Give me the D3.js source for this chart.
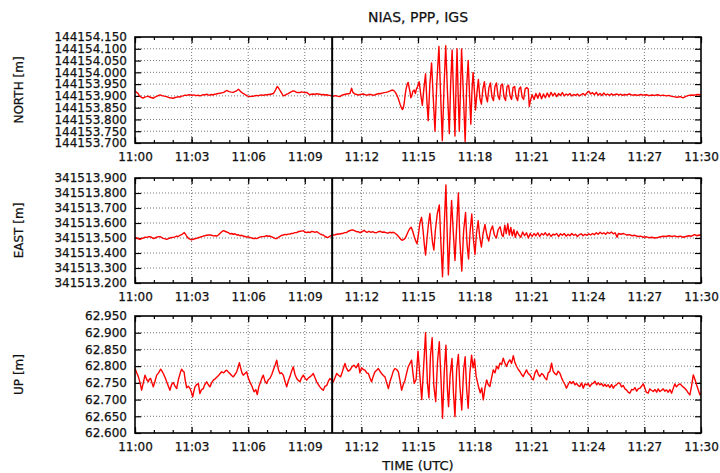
<!DOCTYPE html>
<html>
<head>
<meta charset="utf-8">
<script src="https://cdn.jsdelivr.net/npm/d3@7"></script>
<style>
  body { margin: 0; background: #fff; }
  text { font-family: "DejaVu Sans", Arial, sans-serif; fill: #111; stroke: #111; stroke-width: 0.25px; }
</style>
</head>
<body>
<svg id="chart"></svg>
<script>
// time is minutes after 11:00 UTC, values are mm offsets from each base
const startTime = Date.UTC(2005, 2, 28, 11, 0);
const endMinute = 30;
const markMinute = 10.45;
const chartTitle = 'NIAS, PPP, IGS';
const timeLabel = 'TIME (UTC)';

const northBase = 144153.900, eastBase = 341513.500, upBase = 62.750;
const northDomain = [144153.700, 144154.150], eastDomain = [341513.200, 341513.900], upDomain = [62.600, 62.950];
const northStep = 0.05, eastStep = 0.1, upStep = 0.05;

const north = [[0,22],[0.08,15],[0.15,12],[0.22,2],[0.3,-4],[0.38,-8],[0.45,-9],[0.53,-4],[0.62,-3],[0.7,-1],[0.8,-6],[0.9,-8],[0.98,-10],[1.06,-5],[1.15,-2],[1.25,2],[1.33,4],[1.42,1],[1.5,0],[1.6,-2],[1.68,-3],[1.77,-6],[1.85,-8],[1.95,-9],[2.03,-10],[2.12,-7],[2.2,-6],[2.3,-3],[2.38,-5],[2.47,-1],[2.55,0],[2.65,3],[2.74,2],[2.82,4],[2.9,5],[3.0,2],[3.09,4],[3.17,3],[3.25,1],[3.35,3],[3.44,0],[3.52,2],[3.6,5],[3.7,4],[3.8,7],[3.88,4],[3.95,3],[4.05,6],[4.15,4],[4.22,7],[4.3,8],[4.4,10],[4.5,11],[4.6,13],[4.7,15],[4.78,19],[4.86,23],[4.93,20],[5.0,18],[5.1,16],[5.21,15],[5.28,18],[5.35,20],[5.42,24],[5.48,28],[5.54,24],[5.6,18],[5.7,12],[5.8,8],[5.88,3],[5.95,0],[6.02,-2],[6.1,-3],[6.18,-1],[6.27,-2],[6.36,1],[6.45,2],[6.53,0],[6.62,3],[6.7,4],[6.8,2],[6.9,5],[6.98,4],[7.06,6],[7.15,6],[7.24,8],[7.33,10],[7.4,18],[7.45,25],[7.5,34],[7.54,40],[7.58,37],[7.62,32],[7.68,24],[7.75,15],[7.8,8],[7.86,0],[7.93,2],[8.0,5],[8.06,8],[8.12,10],[8.2,14],[8.3,18],[8.38,21],[8.45,20],[8.52,17],[8.6,14],[8.67,15],[8.74,14],[8.82,17],[8.9,16],[9.0,14],[9.1,15],[9.18,10],[9.25,5],[9.35,7],[9.45,8],[9.52,6],[9.6,9],[9.7,8],[9.8,7],[9.9,5],[10.0,6],[10.08,4],[10.16,5],[10.25,3],[10.35,2],[10.43,0],[10.51,-2],[10.6,1],[10.7,0],[10.78,-2],[10.86,-3],[10.93,1],[11.0,4],[11.1,6],[11.2,8],[11.3,9],[11.39,10],[11.44,22],[11.48,33],[11.52,22],[11.55,15],[11.65,8],[11.75,6],[11.83,3],[11.9,5],[12.0,7],[12.1,8],[12.2,5],[12.3,3],[12.4,6],[12.5,6],[12.6,3],[12.7,4],[12.8,7],[12.9,10],[13.0,9],[13.1,12],[13.2,14],[13.3,15],[13.4,17],[13.5,20],[13.58,23],[13.65,25],[13.72,22],[13.8,15],[13.88,3],[13.95,-10],[14.05,-35],[14.12,-50],[14.17,-58],[14.22,-52],[14.27,-30],[14.32,5],[14.37,30],[14.43,50],[14.48,57],[14.53,35],[14.58,15],[14.62,-8],[14.67,0],[14.73,20],[14.8,25],[14.86,10],[14.92,30],[14.98,40],[15.06,60],[15.14,10],[15.23,-40],[15.31,30],[15.4,94],[15.47,-20],[15.54,-105],[15.63,50],[15.72,140],[15.81,-10],[15.9,-150],[16.0,60],[16.11,210],[16.2,0],[16.29,-190],[16.38,40],[16.47,213],[16.56,20],[16.66,-160],[16.73,50],[16.81,195],[16.88,10],[16.96,-170],[17.02,60],[17.07,200],[17.13,0],[17.19,-150],[17.25,20],[17.31,199],[17.4,20],[17.5,-195],[17.58,40],[17.66,150],[17.73,10],[17.8,-120],[17.86,20],[17.92,100],[17.99,20],[18.05,-60],[18.12,10],[18.2,70],[18.28,-10],[18.36,-35],[18.44,30],[18.52,60],[18.6,0],[18.68,-25],[18.76,35],[18.84,55],[18.92,-5],[19.0,-20],[19.08,40],[19.16,55],[19.24,0],[19.32,-15],[19.4,45],[19.48,50],[19.56,-5],[19.64,-20],[19.72,40],[19.8,45],[19.88,0],[19.96,-15],[20.04,35],[20.12,40],[20.2,-5],[20.28,-20],[20.36,30],[20.44,38],[20.52,-5],[20.6,-15],[20.68,30],[20.76,35],[20.84,30],[20.9,-45],[20.96,-20],[21.05,5],[21.15,-15],[21.25,10],[21.35,-10],[21.45,12],[21.55,-12],[21.65,8],[21.75,-8],[21.85,12],[21.95,-5],[22.05,15],[22.15,0],[22.25,12],[22.35,-3],[22.45,10],[22.55,2],[22.65,14],[22.75,0],[22.85,8],[22.95,3],[23.05,10],[23.15,0],[23.25,6],[23.35,2],[23.45,8],[23.55,0],[23.65,5],[23.75,10],[23.85,3],[23.95,12],[24.05,20],[24.15,8],[24.25,14],[24.35,5],[24.45,15],[24.55,3],[24.65,10],[24.75,2],[24.85,12],[24.95,4],[25.05,8],[25.15,2],[25.25,9],[25.35,3],[25.45,6],[25.55,8],[25.65,3],[25.75,7],[25.85,2],[25.95,6],[26.05,4],[26.2,8],[26.35,3],[26.5,5],[26.65,2],[26.8,6],[26.95,3],[27.1,5],[27.25,1],[27.4,4],[27.55,2],[27.7,5],[27.85,1],[28.0,3],[28.15,0],[28.3,2],[28.45,-2],[28.6,-4],[28.75,-6],[28.9,-3],[29.05,-8],[29.2,-2],[29.35,2],[29.5,4],[29.65,3],[29.8,6],[30,5]];

const east = [[0,4],[0.1,0],[0.18,-5],[0.27,-9],[0.36,-3],[0.45,0],[0.53,6],[0.62,4],[0.7,8],[0.8,9],[0.9,2],[0.98,-4],[1.06,0],[1.15,5],[1.25,9],[1.33,9],[1.42,3],[1.5,-2],[1.6,-6],[1.68,-9],[1.77,-4],[1.85,0],[1.95,3],[2.03,4],[2.12,8],[2.2,12],[2.3,10],[2.38,18],[2.47,22],[2.55,30],[2.61,36],[2.68,25],[2.75,10],[2.83,-2],[2.92,-8],[3.0,-13],[3.08,-8],[3.17,-5],[3.27,-2],[3.35,2],[3.44,5],[3.53,9],[3.62,13],[3.7,15],[3.8,18],[3.9,20],[3.98,20],[4.07,18],[4.15,14],[4.25,15],[4.33,13],[4.42,20],[4.5,30],[4.6,42],[4.68,49],[4.77,45],[4.86,40],[4.95,36],[5.04,27],[5.12,30],[5.2,25],[5.3,28],[5.39,20],[5.48,22],[5.56,15],[5.65,18],[5.74,13],[5.83,10],[5.92,6],[6.0,8],[6.09,4],[6.18,0],[6.27,-3],[6.36,-2],[6.45,-4],[6.55,2],[6.62,6],[6.7,9],[6.8,9],[6.9,12],[6.98,15],[7.07,12],[7.15,13],[7.25,8],[7.35,2],[7.42,-3],[7.51,-4],[7.6,5],[7.7,12],[7.78,18],[7.86,20],[7.95,24],[8.04,22],[8.12,26],[8.21,27],[8.3,30],[8.4,32],[8.48,36],[8.57,36],[8.65,42],[8.75,45],[8.83,46],[8.92,49],[9.0,40],[9.1,36],[9.18,40],[9.27,36],[9.36,44],[9.45,42],[9.54,38],[9.63,42],[9.72,35],[9.8,28],[9.9,22],[9.98,20],[10.08,10],[10.16,5],[10.24,4],[10.33,12],[10.42,18],[10.51,20],[10.6,22],[10.7,25],[10.78,27],[10.86,27],[10.95,30],[11.04,32],[11.12,36],[11.21,36],[11.3,45],[11.4,50],[11.48,53],[11.57,53],[11.65,48],[11.75,42],[11.83,42],[11.92,35],[12.0,40],[12.08,45],[12.15,52],[12.22,42],[12.3,38],[12.4,45],[12.5,38],[12.6,42],[12.7,36],[12.8,35],[12.9,42],[13.0,45],[13.1,38],[13.2,40],[13.3,36],[13.4,32],[13.5,38],[13.6,35],[13.7,38],[13.8,30],[13.9,20],[14.0,5],[14.1,-10],[14.18,-15],[14.27,-8],[14.35,5],[14.45,35],[14.55,60],[14.64,72],[14.72,45],[14.8,10],[14.88,-20],[14.95,-38],[15.02,20],[15.1,100],[15.19,138],[15.27,50],[15.34,-50],[15.4,-113],[15.48,0],[15.56,100],[15.63,164],[15.7,60],[15.77,-30],[15.84,-80],[15.92,50],[16.02,160],[16.13,220],[16.21,-20],[16.3,-258],[16.39,80],[16.48,353],[16.55,20],[16.61,-246],[16.7,20],[16.78,250],[16.87,40],[16.96,-150],[17.05,80],[17.14,300],[17.22,-20],[17.32,-220],[17.42,50],[17.52,170],[17.6,-40],[17.68,-140],[17.76,40],[17.85,160],[17.93,0],[18.02,-110],[18.1,30],[18.19,115],[18.27,10],[18.36,-60],[18.45,30],[18.55,90],[18.65,20],[18.75,-20],[18.85,50],[18.95,80],[19.05,20],[19.15,0],[19.25,55],[19.35,75],[19.45,20],[19.52,10],[19.6,85],[19.68,30],[19.76,95],[19.84,20],[19.92,70],[20.0,15],[20.08,55],[20.16,5],[20.25,45],[20.35,20],[20.45,5],[20.55,40],[20.65,15],[20.75,35],[20.85,0],[20.95,30],[21.05,10],[21.15,30],[21.25,15],[21.35,35],[21.45,10],[21.55,30],[21.65,20],[21.75,35],[21.85,15],[21.95,30],[22.05,10],[22.15,25],[22.25,20],[22.35,30],[22.45,10],[22.55,28],[22.65,18],[22.75,30],[22.85,12],[22.95,25],[23.05,15],[23.15,30],[23.25,18],[23.35,25],[23.45,10],[23.55,22],[23.65,28],[23.75,15],[23.85,25],[23.95,18],[24.05,28],[24.15,20],[24.25,30],[24.35,22],[24.45,35],[24.55,25],[24.65,38],[24.75,28],[24.85,35],[24.95,25],[25.05,38],[25.15,30],[25.25,40],[25.35,28],[25.45,35],[25.55,5],[25.62,30],[25.75,25],[25.9,30],[26.05,20],[26.2,22],[26.35,15],[26.5,18],[26.65,10],[26.8,12],[26.95,5],[27.1,8],[27.25,2],[27.4,5],[27.55,0],[27.7,3],[27.85,8],[28.0,12],[28.15,10],[28.3,15],[28.45,10],[28.6,14],[28.75,8],[28.9,12],[29.05,5],[29.2,10],[29.35,15],[29.5,12],[29.65,22],[29.8,15],[29.9,20],[30,18]];

const up = [[0,43],[0.09,30],[0.18,18],[0.27,0],[0.35,-22],[0.44,0],[0.53,23],[0.62,10],[0.71,3],[0.77,12],[0.83,13],[0.9,0],[0.97,-12],[1.06,5],[1.15,23],[1.25,30],[1.36,41],[1.43,35],[1.5,28],[1.6,15],[1.68,3],[1.77,-10],[1.85,-22],[1.94,-5],[2.03,1],[2.12,-10],[2.21,-17],[2.3,10],[2.4,30],[2.47,41],[2.54,35],[2.6,33],[2.67,5],[2.74,-15],[2.83,-10],[2.92,-17],[3.0,-30],[3.06,-42],[3.12,-25],[3.18,-12],[3.27,-5],[3.36,-2],[3.44,-32],[3.53,-20],[3.62,-17],[3.7,-5],[3.8,3],[3.88,-5],[3.97,-12],[4.06,0],[4.15,8],[4.25,12],[4.36,18],[4.47,25],[4.59,33],[4.7,30],[4.78,35],[4.86,38],[4.95,32],[5.03,28],[5.12,22],[5.21,18],[5.3,25],[5.39,33],[5.46,45],[5.53,60],[5.6,45],[5.67,30],[5.74,23],[5.83,28],[5.92,33],[6.0,15],[6.09,3],[6.2,-10],[6.31,-27],[6.4,-20],[6.48,-35],[6.57,-10],[6.66,3],[6.73,15],[6.8,23],[6.89,5],[6.98,-2],[7.07,10],[7.15,13],[7.25,25],[7.36,43],[7.44,55],[7.51,68],[7.6,40],[7.68,28],[7.77,30],[7.86,23],[7.95,5],[8.04,-12],[8.12,5],[8.21,18],[8.3,35],[8.39,48],[8.48,25],[8.57,13],[8.65,8],[8.74,3],[8.83,15],[8.92,23],[9.0,15],[9.1,8],[9.18,14],[9.27,18],[9.36,22],[9.45,28],[9.54,15],[9.63,3],[9.72,-5],[9.8,-12],[9.89,-18],[9.98,-22],[10.07,-10],[10.16,-8],[10.25,5],[10.33,13],[10.42,8],[10.51,3],[10.6,15],[10.69,28],[10.8,22],[10.9,18],[11.0,35],[11.07,48],[11.13,58],[11.2,45],[11.3,35],[11.39,38],[11.5,48],[11.61,53],[11.72,45],[11.84,58],[11.92,30],[12.01,45],[12.1,40],[12.19,38],[12.28,30],[12.37,28],[12.45,15],[12.54,3],[12.63,20],[12.72,33],[12.81,38],[12.9,43],[12.98,35],[13.07,28],[13.16,22],[13.25,18],[13.34,0],[13.43,-17],[13.52,5],[13.6,18],[13.69,35],[13.78,43],[13.87,40],[13.96,33],[14.05,5],[14.13,-22],[14.22,-5],[14.31,8],[14.4,30],[14.48,48],[14.57,58],[14.66,68],[14.73,30],[14.8,-2],[14.9,10],[15.0,95],[15.1,20],[15.2,-50],[15.3,50],[15.4,150],[15.5,0],[15.58,-45],[15.66,80],[15.75,135],[15.84,-10],[15.94,-56],[16.03,60],[16.13,123],[16.22,10],[16.3,-106],[16.39,30],[16.48,113],[16.56,-20],[16.62,-71],[16.7,20],[16.8,73],[16.88,-30],[16.96,-101],[17.05,40],[17.14,85],[17.22,-10],[17.32,-81],[17.42,40],[17.5,78],[17.58,-20],[17.66,-76],[17.75,30],[17.84,83],[17.92,45],[18.0,70],[18.08,20],[18.2,-10],[18.3,-30],[18.38,-15],[18.46,-51],[18.55,-15],[18.64,9],[18.72,-5],[18.81,-11],[18.9,15],[18.99,39],[19.08,30],[19.17,50],[19.26,42],[19.34,59],[19.43,55],[19.52,74],[19.6,60],[19.69,49],[19.78,62],[19.87,69],[19.96,58],[20.05,81],[20.14,60],[20.23,49],[20.32,40],[20.4,34],[20.49,25],[20.58,19],[20.67,30],[20.75,39],[20.84,28],[20.93,24],[21.02,15],[21.11,9],[21.2,30],[21.29,39],[21.38,25],[21.46,19],[21.55,28],[21.64,24],[21.73,15],[21.82,9],[21.9,30],[21.99,34],[22.08,59],[22.16,35],[22.25,28],[22.34,24],[22.43,35],[22.52,29],[22.61,15],[22.7,4],[22.79,-5],[22.87,-16],[22.96,-5],[23.05,4],[23.14,-2],[23.23,4],[23.32,-6],[23.4,-1],[23.49,-8],[23.58,-11],[23.67,0],[23.76,-16],[23.85,-3],[23.93,-6],[24.02,-2],[24.11,-11],[24.2,-4],[24.29,-1],[24.38,5],[24.47,-6],[24.56,0],[24.64,-6],[24.73,-2],[24.82,-10],[24.91,-4],[24.99,-11],[25.08,-6],[25.17,-14],[25.26,-5],[25.35,-16],[25.44,-8],[25.52,-6],[25.61,0],[25.7,-1],[25.79,-12],[25.88,-8],[25.97,-18],[26.05,-21],[26.14,-28],[26.23,-31],[26.32,-20],[26.41,-21],[26.5,-14],[26.59,-25],[26.67,-18],[26.76,-16],[26.85,-10],[26.94,-3],[27.02,-15],[27.1,-28],[27.2,-31],[27.28,-18],[27.37,-22],[27.47,-26],[27.56,-20],[27.65,-28],[27.73,-18],[27.82,-26],[27.91,-22],[28.0,-18],[28.08,-25],[28.17,-21],[28.26,-28],[28.35,-20],[28.44,-31],[28.52,-18],[28.61,-3],[28.7,-12],[28.79,-6],[28.88,-3],[28.97,-8],[29.05,-12],[29.14,-16],[29.23,-22],[29.32,-30],[29.41,-36],[29.5,-10],[29.59,24],[29.68,10],[29.76,-5],[29.85,-20],[29.94,-36],[30,-30]];

const width = 720, height = 473;
const left = 135, right = 701;
const panels = [
  { label: 'NORTH [m]', data: north, base: northBase, domain: northDomain, step: northStep, top: 37, bottom: 143 },
  { label: 'EAST [m]', data: east, base: eastBase, domain: eastDomain, step: eastStep, top: 178, bottom: 283 },
  { label: 'UP [m]', data: up, base: upBase, domain: upDomain, step: upStep, top: 316, bottom: 433 }
];

const toDate = m => new Date(startTime + m * 60000);
const x = d3.scaleUtc()
  .domain([toDate(0), toDate(endMinute)])
  .range([left, right]);
const majorTicks = d3.utcMinute.every(3).range(toDate(0), toDate(endMinute + 0.01));
const minorTicks = d3.utcMinute.every(1).range(toDate(0), toDate(endMinute + 0.01));
const fmtTime = d3.utcFormat('%H:%M');

const svg = d3.select('#chart')
  .attr('width', width)
  .attr('height', height);

svg.append('text')
  .attr('x', (left + right) / 2)
  .attr('y', 22)
  .attr('text-anchor', 'middle')
  .attr('font-size', 14)
  .text(chartTitle);

panels.forEach((p, i) => {
  const y = d3.scaleLinear().domain(p.domain).range([p.bottom, p.top]);
  const n = Math.round((p.domain[1] - p.domain[0]) / p.step);
  const yTicks = d3.range(n + 1).map(k => p.domain[0] + k * p.step);
  const g = svg.append('g');

  // grid
  g.append('g').selectAll('line')
    .data(majorTicks.slice(1, -1))
    .enter().append('line')
    .attr('x1', d => x(d)).attr('x2', d => x(d))
    .attr('y1', p.top).attr('y2', p.bottom)
    .attr('stroke', '#777').attr('stroke-width', 1).attr('stroke-dasharray', '1,2');
  g.append('g').selectAll('line')
    .data(yTicks.slice(1, -1))
    .enter().append('line')
    .attr('x1', left).attr('x2', right)
    .attr('y1', d => y(d)).attr('y2', d => y(d))
    .attr('stroke', '#777').attr('stroke-width', 1).attr('stroke-dasharray', '1,2');

  // axes with inward ticks
  g.append('g').attr('transform', `translate(0,${p.bottom})`)
    .call(d3.axisBottom(x).tickValues(majorTicks).tickFormat(fmtTime).tickSizeInner(-6).tickSizeOuter(0).tickPadding(9));
  g.append('g').attr('transform', `translate(0,${p.bottom})`)
    .call(d3.axisBottom(x).tickValues(minorTicks).tickFormat('').tickSizeInner(-3).tickSizeOuter(0));
  g.append('g').attr('transform', `translate(0,${p.top})`)
    .call(d3.axisTop(x).tickValues(majorTicks).tickFormat('').tickSizeInner(-6).tickSizeOuter(0));
  g.append('g').attr('transform', `translate(0,${p.top})`)
    .call(d3.axisTop(x).tickValues(minorTicks).tickFormat('').tickSizeInner(-3).tickSizeOuter(0));
  g.append('g').attr('transform', `translate(${left},0)`)
    .call(d3.axisLeft(y).tickValues(yTicks).tickFormat(d3.format('.3f')).tickSizeInner(-6).tickSizeOuter(0).tickPadding(8));
  g.append('g').attr('transform', `translate(${right},0)`)
    .call(d3.axisRight(y).tickValues(yTicks).tickFormat('').tickSizeInner(-6).tickSizeOuter(0));

  g.selectAll('.domain').remove();
  g.selectAll('.tick line').attr('stroke', '#000').attr('stroke-width', 1.2);
  g.selectAll('.tick text').attr('font-size', 12)
    .attr('font-family', '"DejaVu Sans", Arial, sans-serif');

  // clip + data line
  const clipId = 'clip' + i;
  svg.append('clipPath').attr('id', clipId).append('rect')
    .attr('x', left).attr('y', p.top).attr('width', right - left).attr('height', p.bottom - p.top);

  const line = d3.line()
    .x(d => x(toDate(d[0])))
    .y(d => y(p.base + d[1] / 1000));

  g.append('path')
    .datum(p.data)
    .attr('clip-path', `url(#${clipId})`)
    .attr('fill', 'none')
    .attr('stroke', '#ff0000')
    .attr('stroke-width', 1.4)
    .attr('stroke-linejoin', 'round')
    .attr('d', line);

  // marker line
  g.append('line')
    .attr('x1', x(toDate(markMinute))).attr('x2', x(toDate(markMinute)))
    .attr('y1', p.top).attr('y2', p.bottom)
    .attr('stroke', '#000').attr('stroke-width', 2);

  // frame
  g.append('rect')
    .attr('x', left).attr('y', p.top)
    .attr('width', right - left).attr('height', p.bottom - p.top)
    .attr('fill', 'none').attr('stroke', '#000').attr('stroke-width', 1.6);

  svg.append('text')
    .attr('transform', `translate(23,${(p.top + p.bottom) / 2}) rotate(-90)`)
    .attr('text-anchor', 'middle')
    .attr('font-size', 12)
    .text(p.label);
});

svg.append('text')
  .attr('x', (left + right) / 2)
  .attr('y', 470)
  .attr('text-anchor', 'middle')
  .attr('font-size', 13)
  .text(timeLabel);
</script>
</body>
</html>
